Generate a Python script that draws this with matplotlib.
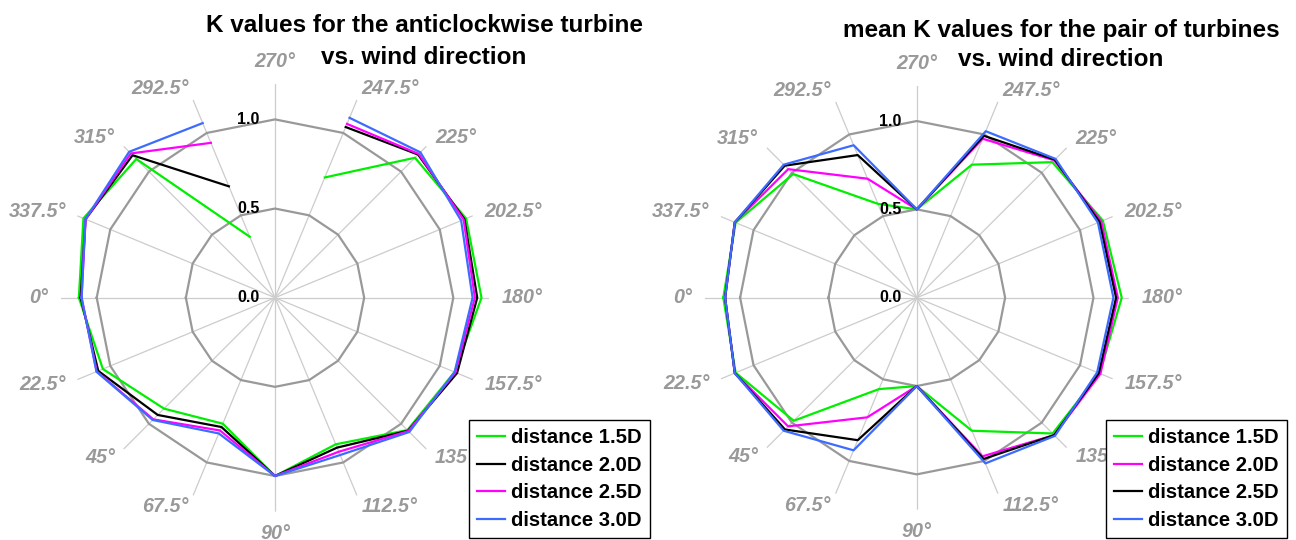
import numpy as np
import matplotlib
matplotlib.use('Agg')
import matplotlib.pyplot as plt

plt.rcParams['font.family'] = ['Liberation Sans', 'DejaVu Sans']

# wind directions (deg) and their labels
directions = [0, 22.5, 45, 67.5, 90, 112.5, 135, 157.5,
              180, 202.5, 225, 247.5, 270, 292.5, 315, 337.5]
dir_labels = ['0°', '22.5°', '45°', '67.5°', '90°', '112.5°', '135°', '157.5°',
              '180°', '202.5°', '225°', '247.5°', '270°', '292.5°', '315°', '337.5°']
r_ticks = [0.0, 0.5, 1.0]

# K values, anticlockwise turbine (no value at 270 deg)
acw_15 = [1.100, 1.045, 0.880, 0.765, 1.0, 0.890, 1.050, 1.090,
          1.158, 1.160, 1.110, 0.730, np.nan, 0.370, 1.100, 1.163]
acw_20 = [1.090, 1.073, 0.930, 0.785, 1.0, 0.910, 1.055, 1.105,
          1.134, 1.150, 1.135, 1.036, np.nan, 0.676, 1.130, 1.150]
acw_25 = [1.085, 1.082, 0.965, 0.806, 1.0, 0.935, 1.058, 1.095,
          1.121, 1.145, 1.140, 1.055, np.nan, 0.940, 1.144, 1.150]
acw_30 = [1.085, 1.084, 0.970, 0.824, 1.0, 0.955, 1.065, 1.090,
          1.108, 1.130, 1.153, 1.092, np.nan, 1.060, 1.157, 1.151]

# mean K values, pair of turbines
pair_15 = [1.095, 1.110, 0.985, 0.560, 0.5, 0.815, 1.087, 1.120,
           1.160, 1.140, 1.085, 0.815, 0.5, 0.575, 0.990, 1.110]
pair_20 = [1.085, 1.115, 1.030, 0.733, 0.5, 0.972, 1.100, 1.125,
           1.138, 1.130, 1.100, 0.974, 0.5, 0.729, 1.029, 1.115]
pair_25 = [1.085, 1.115, 1.055, 0.873, 0.5, 0.988, 1.100, 1.115,
           1.128, 1.120, 1.105, 0.992, 0.5, 0.874, 1.057, 1.115]
pair_30 = [1.085, 1.115, 1.065, 0.935, 0.5, 1.015, 1.106, 1.105,
           1.113, 1.110, 1.111, 1.020, 0.5, 0.934, 1.065, 1.115]

names = ['distance 1.5D', 'distance 2.0D', 'distance 2.5D', 'distance 3.0D']

GREEN = '#00ee00'
MAGENTA = '#ff00ff'
BLACK = '#000000'
BLUE = '#3d6bff'
GRAY = '#999999'

fig = plt.figure(figsize=(12.96, 5.4), dpi=100)


def closed(vals):
    return list(vals) + [vals[0]]


def radar(rect, series, colors):
    ax = fig.add_axes(rect, projection='polar')
    ax.set_theta_zero_location('W')
    ax.set_theta_direction(1)
    ax.set_rlim(0, 1.2)
    ax.spines['polar'].set_visible(False)
    ax.set_thetagrids(directions, labels=[''] * len(directions))
    ax.set_yticks([])
    ax.xaxis.grid(True, color='#cccccc', lw=0.9)
    ax.yaxis.grid(False)
    ax.tick_params(axis='x', length=0)

    th = np.deg2rad(closed(directions))
    for lev in [0.5, 1.0]:
        ax.plot(th, [lev] * len(th), color=GRAY, lw=1.6, zorder=2)

    for vals, c, name in zip(series, colors, names):
        ax.plot(th, closed(vals), color=c, lw=1.6, label=name, zorder=3)

    # radial labels along the top spoke
    for v in r_ticks:
        ax.annotate(f'{v:.1f}', xy=(np.deg2rad(270), v), xytext=(-11, 0),
                    textcoords='offset points', ha='right', va='center',
                    fontsize=11.5, fontweight='bold', zorder=5,
                    annotation_clip=False)

    # direction labels just outside the spoke ends
    for d, lab in zip(directions, dir_labels):
        t = np.deg2rad(d)
        dx, dy = -np.cos(t), -np.sin(t)
        ha = 'center' if abs(dx) < 0.1 else ('left' if dx > 0 else 'right')
        if abs(dx) < 0.1:
            va = 'bottom' if dy > 0 else 'top'
        else:
            va = 'center'
        gap = 9.0
        ax.annotate(lab, xy=(t, 1.2), xytext=(dx * gap, dy * gap),
                    textcoords='offset points', ha=ha, va=va,
                    fontsize=14.2, fontweight='bold', fontstyle='italic',
                    color=GRAY, annotation_clip=False)
    return ax


ax1 = radar([0.0471, 0.0524, 0.3302, 0.7926],
            [acw_15, acw_20, acw_25, acw_30], [GREEN, BLACK, MAGENTA, BLUE])
ax2 = radar([0.5438, 0.0561, 0.3272, 0.7852],
            [pair_15, pair_20, pair_25, pair_30], [GREEN, MAGENTA, BLACK, BLUE])

tkw = dict(ha='center', va='baseline', fontsize=17.5, fontweight='bold')
fig.text(424 / 1296, 1 - 32 / 540, 'K values for the anticlockwise turbine', **tkw)
fig.text(424 / 1296, 1 - 64 / 540, 'vs. wind direction', **tkw)
fig.text(1061 / 1296, 1 - 37 / 540, 'mean K values for the pair of turbines', **tkw)
fig.text(1061 / 1296, 1 - 66 / 540, 'vs. wind direction', **tkw)

lkw = dict(loc='lower right', bbox_transform=fig.transFigure, fancybox=False,
           edgecolor='black', framealpha=1, borderaxespad=0, borderpad=0.4,
           labelspacing=0.42, handlelength=1.4, handletextpad=0.3,
           prop={'weight': 'bold', 'size': 14.6})
for ax, anchor in [(ax1, (650 / 1296, 2 / 540)), (ax2, (1287 / 1296, 2 / 540))]:
    leg = ax.legend(bbox_to_anchor=anchor, **lkw)
    leg.get_frame().set_linewidth(1.0)
    leg.set_zorder(10)

fig.savefig('out.png', dpi=100)
